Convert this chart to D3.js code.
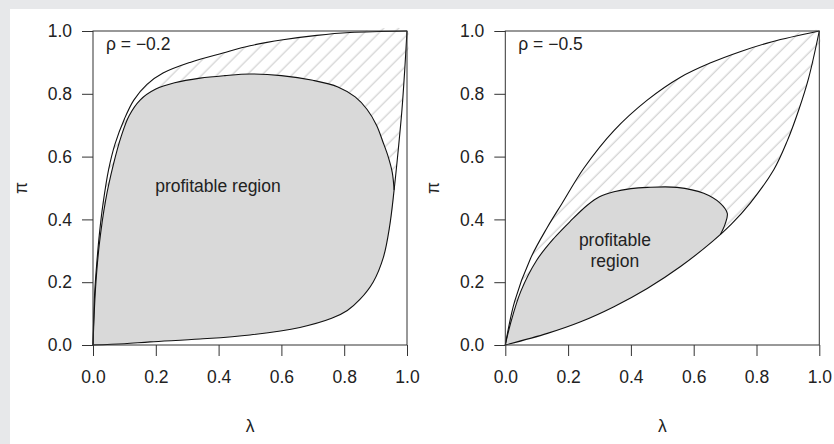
<!DOCTYPE html>
<html>
<head>
<meta charset="utf-8">
<script src="https://cdn.jsdelivr.net/npm/d3@7"></script>
<style>
  html, body { margin: 0; padding: 0; background: #e7e8ea; }
  svg { display: block; }
  text { font-family: "Liberation Sans", Arial, sans-serif; fill: #222; }
</style>
</head>
<body>
<script>
// axis ticks (both panels, both axes)
const tickValues = [0, 0.2, 0.4, 0.6, 0.8, 1.0];

// rho = -0.2 : bounds of the feasible region and edge of the profitable region, [lambda, pi]
const upperA = [[0, 0], [0.005, 0.16], [0.012, 0.26], [0.02, 0.35], [0.032, 0.45], [0.05, 0.56],
  [0.07, 0.64], [0.1, 0.72], [0.13, 0.78], [0.172, 0.83], [0.223, 0.866], [0.309, 0.9],
  [0.414, 0.93], [0.5, 0.953], [0.605, 0.972], [0.713, 0.986], [0.818, 0.995], [1, 1]];
const lowerA = [[0, 0], [0.1, 0.004], [0.182, 0.010], [0.341, 0.019], [0.5, 0.032], [0.659, 0.056],
  [0.76, 0.085], [0.81, 0.11], [0.85, 0.145], [0.892, 0.20], [0.925, 0.28], [0.945, 0.38],
  [0.959, 0.494], [0.972, 0.62], [0.984, 0.75], [0.993, 0.88], [1, 1]];
const regionTopA = [[0.959, 0.494], [0.953, 0.55], [0.94, 0.60], [0.924, 0.645], [0.903, 0.70],
  [0.873, 0.75], [0.835, 0.79], [0.78, 0.822], [0.70, 0.843], [0.60, 0.858], [0.5, 0.863],
  [0.42, 0.858], [0.341, 0.85], [0.26, 0.835], [0.2, 0.815], [0.15, 0.78], [0.115, 0.73],
  [0.09, 0.665], [0.065, 0.575], [0.04, 0.46], [0.02, 0.32], [0.008, 0.18], [0, 0]];

// rho = -0.5
const upperB = [[0, 0], [0.03, 0.14], [0.08, 0.275], [0.134, 0.375], [0.18, 0.45], [0.25, 0.563],
  [0.346, 0.683], [0.452, 0.78], [0.558, 0.853], [0.65, 0.897], [0.75, 0.935], [0.85, 0.966], [1, 1]];
const lowerB = [[0, 0], [0.134, 0.037], [0.24, 0.074], [0.346, 0.122], [0.452, 0.18], [0.558, 0.25],
  [0.66, 0.33], [0.72, 0.385], [0.78, 0.452], [0.855, 0.558], [0.898, 0.65], [0.935, 0.75],
  [0.966, 0.85], [1, 1]];
const regionTopB = [[0.685, 0.352], [0.70, 0.385], [0.707, 0.419], [0.685, 0.451], [0.632, 0.483],
  [0.547, 0.502], [0.452, 0.502], [0.40, 0.498], [0.346, 0.488], [0.30, 0.472], [0.261, 0.445],
  [0.208, 0.395], [0.155, 0.34], [0.1, 0.27], [0.049, 0.17], [0.017, 0.07], [0, 0]];

const panelLabels = ["\u03c1 = \u22120.2", "\u03c1 = \u22120.5"];
const regionLabels = [["profitable region"], ["profitable", "region"]];
const regionLabelPos = [[0.398, 0.488], [0.349, 0.315]];

const W = 834, H = 444;
const FS = 17.5;
const svg = d3.select("body").append("svg").attr("width", W).attr("height", H);

svg.append("rect").attr("x", 10).attr("y", 9).attr("width", W - 10).attr("height", H - 9).attr("fill", "#fff");

const defs = svg.append("defs");
defs.append("pattern")
    .attr("id", "hatch")
    .attr("patternUnits", "userSpaceOnUse")
    .attr("width", 10.6).attr("height", 10.6)
    .attr("patternTransform", "rotate(45)")
    .append("line")
    .attr("x1", 5).attr("y1", 0).attr("x2", 5).attr("y2", 10.6)
    .attr("stroke", "#bcbcbc").attr("stroke-width", 0.85);

function drawPanel(left, upper, lower, regionTop, label, regionLabel, labelPos) {
    const size = 314;
    const top = 31;
    const x = d3.scaleLinear().domain([0, 1]).range([left, left + size]);
    const y = d3.scaleLinear().domain([0, 1]).range([top + size, top]);
    const g = svg.append("g");

    const line = d3.line().x(d => x(d[0])).y(d => y(d[1])).curve(d3.curveCatmullRom.alpha(0.5));

    // hatched band between the bounds
    const band = upper.concat(lower.slice().reverse().slice(1));
    g.append("path").attr("d", line(band) + "Z").attr("fill", "url(#hatch)");

    // profitable region: lower bound up to the junction, then the top edge back to origin
    const junction = regionTop[0][0];
    const region = lower.filter(d => d[0] < junction - 0.015).concat(regionTop);
    g.append("path").attr("d", line(region) + "Z").attr("fill", "#d9d9d9");

    [upper, lower, regionTop].forEach(c => {
        g.append("path").attr("d", line(c)).attr("fill", "none").attr("stroke", "#111").attr("stroke-width", 1.1);
    });

    // axes
    const xAxis = d3.axisBottom(x).tickValues(tickValues).tickFormat(d3.format(".1f")).tickSize(11);
    const yAxis = d3.axisLeft(y).tickValues(tickValues).tickFormat(d3.format(".1f")).tickSize(11).tickPadding(10);
    const gx = g.append("g").attr("transform", `translate(0,${top + size})`).call(xAxis);
    const gy = g.append("g").attr("transform", `translate(${left},0)`).call(yAxis);
    [gx, gy].forEach(a => {
        a.select(".domain").remove();
        a.selectAll("line").attr("stroke", "#333");
        a.selectAll("text").attr("font-size", FS).attr("font-family", "Liberation Sans, Arial, sans-serif").attr("fill", "#222");
    });
    gx.selectAll("text").attr("y", 26).attr("dy", "0.71em");

    g.append("rect").attr("x", left).attr("y", top).attr("width", size).attr("height", size)
        .attr("fill", "none").attr("stroke", "#333").attr("stroke-width", 1);

    g.append("text").attr("x", left + 13).attr("y", 50).attr("font-size", FS).text(label);

    regionLabel.forEach((t, i) => {
        g.append("text").attr("x", x(labelPos[0])).attr("y", y(labelPos[1]) + i * 21)
            .attr("text-anchor", "middle").attr("font-size", FS).text(t);
    });

    g.append("text").attr("x", left + size / 2).attr("y", 432).attr("text-anchor", "middle").attr("font-size", FS).text("\u03bb");
    g.append("text").attr("transform", `translate(${left - 66},${top + size / 2}) rotate(-90)`)
        .attr("text-anchor", "middle").attr("font-size", FS).text("\u03c0");
}

drawPanel(93, upperA, lowerA, regionTopA, panelLabels[0], regionLabels[0], regionLabelPos[0]);
drawPanel(505.3, upperB, lowerB, regionTopB, panelLabels[1], regionLabels[1], regionLabelPos[1]);
</script>
</body>
</html>
